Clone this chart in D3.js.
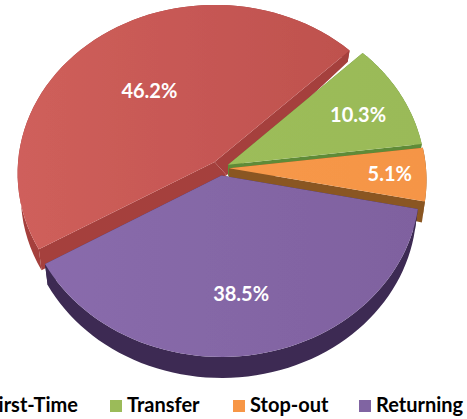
<!DOCTYPE html>
<html><head><meta charset="utf-8">
<script src="https://cdn.jsdelivr.net/npm/d3@7"></script>
<style>html,body{margin:0;padding:0;background:#fff;overflow:hidden}svg{display:block}text{font-family:Lato,"Open Sans",sans-serif;font-weight:700}</style>
</head><body><svg id="c" width="467" height="419"></svg>
<script>
const categories=["First-Time","Transfer","Stop-out","Returning"];
const values=[46.2,10.3,5.1,38.5];
const labels=["46.2%","10.3%","5.1%","38.5%"];
const topLight=["#cf5f5b","#9fc05c","#f99b4c","#8a6cad"];
const topDark=["#bb4e4b","#9aba58","#f59546","#7f619f"];
const sideColors=["#a53f3c","#5f8b37","#8a5624","#3c2a52"];
const legendColors=["#c0504d","#9bbb59","#f79646","#8064a2"];

const W=467,H=419,cx=220,cy=168,R=197,k=.854,persp=.0666,explode=9;
const svg=d3.select("#c");
const toRad=d=>d*Math.PI/180;
const pie=d3.pie().sort(null).startAngle(toRad(-120.3)).endAngle(toRad(239.7));
const arcs=pie(values);
const radial=d3.scaleLinear().domain([0,1]).range([0,R]);
const depth=(v,r)=>{const rim=Math.min(21,19+10*v);return 11+(rim-11)*r;};
function project(a,r,ox,oy,z){
  const px=ox+Math.sin(a)*radial(r),py=oy-Math.cos(a)*radial(r);
  const w=1-persp*py/R;
  let x=cx+px/w,y=cy+k*py/w;
  if(z){x=cx+(x-cx)*.985;y+=depth(py/R,r);}
  return [x,y];
}
const line=d3.line();
const defs=svg.append("defs");
defs.append("filter").attr("id","soft").append("feGaussianBlur").attr("stdDeviation",.4);
arcs.forEach((d,i)=>{
  const g=defs.append("linearGradient").attr("id","g"+i).attr("gradientUnits","userSpaceOnUse")
    .attr("x1",20).attr("x2",420).attr("y1",0).attr("y2",0);
  g.append("stop").attr("offset",0).attr("stop-color",topLight[i]);
  g.append("stop").attr("offset",1).attr("stop-color",topDark[i]);
});
const apexShift=[12,0,0,0];
const pieLayer=svg.append("g").attr("filter","url(#soft)");
arcs.forEach((d,i)=>{
  const mid=(d.startAngle+d.endAngle)/2;
  const ox=Math.sin(mid)*explode,oy=-Math.cos(mid)*explode;
  const angs=d3.range(0,61).map(j=>d.startAngle+(d.endAngle-d.startAngle)*j/60);
  const rimTop=angs.map(a=>project(a,1,ox,oy,false));
  const rimBot=angs.map(a=>project(a,1,ox,oy,true));
  const apexT=project(0,0,ox,oy,false),b=project(0,0,ox,oy,true);
  const apexB=[b[0]+apexShift[i],b[1]+apexShift[i]*.2];
  const g=pieLayer.append("g");
  const side=sideColors[i];
  g.append("path").attr("d",line(rimTop.concat(rimBot.slice().reverse()))+"Z").attr("fill",side);
  g.append("path").attr("d",line([apexT,rimTop[0],rimBot[0],apexB])+"Z").attr("fill",side);
  g.append("path").attr("d",line([apexT,rimTop[60],rimBot[60],apexB])+"Z").attr("fill",side);
  g.append("path").attr("d",line([apexT].concat(rimTop))+"Z").attr("fill",`url(#g${i})`);
});
const labelScaleR=[.62,.72,.83,.66];
const labelNudge=[[6,16],[5,9],[-3,8],[-3,10]];
arcs.forEach((d,i)=>{
  const mid=(d.startAngle+d.endAngle)/2;
  const ox=Math.sin(mid)*explode,oy=-Math.cos(mid)*explode;
  const p=project(mid,labelScaleR[i],ox,oy,false);
  svg.append("text").attr("x",p[0]+labelNudge[i][0]).attr("y",p[1]+labelNudge[i][1]).attr("text-anchor","middle")
    .attr("font-size",20).attr("fill","#fff").text(labels[i]);
});
const legendX=d3.scaleOrdinal().domain(categories).range([-26,110,233,359]);
categories.forEach((c,i)=>{
  const x=legendX(c);
  svg.append("rect").attr("x",x).attr("y",400).attr("width",12).attr("height",12).attr("fill",legendColors[i]);
  const t=svg.append("text").attr("y",412).attr("font-size",20).attr("fill","#000").text(c);
  t.attr("x",i===0?78:x+17).attr("text-anchor",i===0?"end":"start");
});
</script></body></html>
